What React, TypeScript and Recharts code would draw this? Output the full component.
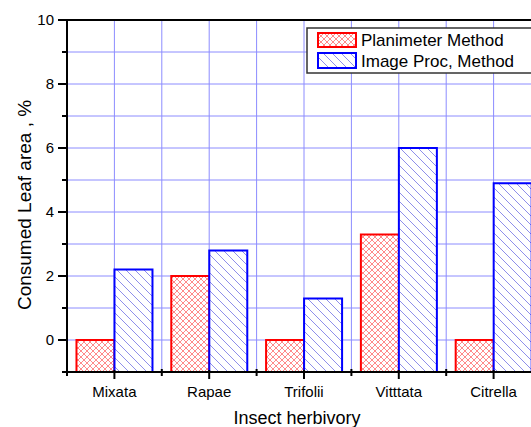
import React from 'react';
import { Bar, BarChart, CartesianGrid, Label, ReferenceLine, XAxis, YAxis } from 'recharts';

const categories = ['Mixata', 'Rapae', 'Trifolii', 'Vitttata', 'Citrella'];
const planimeter = [0, 2.0, 0, 3.3, 0];
const imageProc = [2.2, 2.8, 1.3, 6.0, 4.9];
const yTicks = [-1, 0, 1, 2, 3, 4, 5, 6, 7, 8, 9, 10];
const yLabelled = [0, 2, 4, 6, 8, 10];
const seriesNames = ['Planimeter Method', 'Image Proc, Method'];

const Y_MIN = -1;
const Y_MAX = 10;

const data = categories.map((name, i) => ({
  name,
  plan: [Y_MIN, planimeter[i]],
  img: [Y_MIN, imageProc[i]],
}));

const W = 560;
const H = 427;
const margin = { top: 20, right: 19, bottom: 0, left: 20 };
const Y_AXIS_W = 47;
const X_AXIS_H = 55;
const PLOT_W = W - margin.left - margin.right - Y_AXIS_W;
const BAND = PLOT_W / categories.length;

const font = '"Liberation Sans", Arial, sans-serif';
const red = '#ff0000';
const blue = '#0000ff';
const gridColor = '#8c8cff';

const Patterns = ({ suffix = '' }: { suffix?: string }) => (
  <defs>
    <pattern id={'redX' + suffix} width="6" height="6" patternUnits="userSpaceOnUse">
      <rect width="6" height="6" fill="#fff" />
      <path d="M0,0 L6,6 M6,0 L0,6" stroke="#ff8a8a" strokeWidth="1" />
    </pattern>
    <pattern id={'blueD' + suffix} width="9" height="9" patternUnits="userSpaceOnUse">
      <rect width="9" height="9" fill="#fff" />
      <path d="M0,0 L9,9 M-3,6 L3,12 M6,-3 L12,3" stroke="#8f8fea" strokeWidth="1" />
    </pattern>
  </defs>
);

const YTick = (props: any) => {
  const { x, y, payload } = props;
  const v = payload.value;
  const major = yLabelled.includes(v);
  return (
    <g>
      <line x1={x - (major ? 9 : 5)} x2={x} y1={y} y2={y} stroke="#000" strokeWidth={2} />
      {major && (
        <text x={x - 13} y={y} dy={5} textAnchor="end" fontFamily={font} fontSize={15} fill="#000">
          {v}
        </text>
      )}
    </g>
  );
};

const XTick = (props: any) => {
  const { x, y, payload, index } = props;
  return (
    <g>
      <line x1={x} x2={x} y1={y - 2} y2={y + 7} stroke="#000" strokeWidth={2} />
      <line x1={x - BAND / 2} x2={x - BAND / 2} y1={y - 3} y2={y + 4} stroke="#000" strokeWidth={2} />
      {index === categories.length - 1 && (
        <line x1={x + BAND / 2} x2={x + BAND / 2} y1={y - 3} y2={y + 4} stroke="#000" strokeWidth={2} />
      )}
      <text x={x} y={y + 25} textAnchor="middle" fontFamily={font} fontSize={15} fill="#000">
        {payload.value}
      </text>
    </g>
  );
};

// legend box, drawn over the plot like the original
const LegendBox = () => (
  <svg width={240} height={48} style={{ position: 'absolute', left: 306, top: 27, display: 'block' }}>
    <Patterns suffix="L" />
    <rect x={1} y={1} width={250} height={45} fill="#fff" stroke="#333" strokeWidth={1.5} />
    <rect x={12} y={6} width={38} height={14} fill="url(#redXL)" stroke={red} strokeWidth={2} />
    <text x={55} y={19} fontFamily={font} fontSize={17} fill="#000">
      {seriesNames[0]}
    </text>
    <rect x={12} y={26} width={38} height={15} fill="url(#blueDL)" stroke={blue} strokeWidth={2} />
    <text x={55} y={40} fontFamily={font} fontSize={17} fill="#000">
      {seriesNames[1]}
    </text>
  </svg>
);

const App = () => {
  return (
    <div style={{ position: 'absolute', left: 0, top: 0, width: 531, height: 427, overflow: 'hidden', background: '#fff' }}>
      <BarChart width={W} height={H} data={data} margin={margin} barGap={0} barCategoryGap="10%">
        <Patterns />
        <CartesianGrid
          stroke={gridColor}
          strokeWidth={1}
          verticalCoordinatesGenerator={({ offset }: any) =>
            Array.from({ length: 9 }, (_, k) => offset.left + ((k + 1) * offset.width) / 10)
          }
        />
        <XAxis
          dataKey="name"
          height={X_AXIS_H}
          tickSize={0}
          tickMargin={0}
          tickLine={false}
          axisLine={{ stroke: '#000', strokeWidth: 2 }}
          tick={<XTick />}
          interval={0}
        >
          <Label
            content={({ viewBox }: any) => (
              <text
                x={viewBox.x + viewBox.width / 2 - 7}
                y={viewBox.y + 52}
                textAnchor="middle"
                fontFamily={font}
                fontSize={18}
                fill="#000"
              >
                Insect herbivory
              </text>
            )}
          />
        </XAxis>
        <YAxis
          width={Y_AXIS_W}
          domain={[Y_MIN, Y_MAX]}
          ticks={yTicks}
          interval={0}
          allowDataOverflow
          tickSize={0}
          tickMargin={0}
          tickLine={false}
          axisLine={{ stroke: '#000', strokeWidth: 2 }}
          tick={<YTick />}
        >
          <Label
            content={({ viewBox }: any) => {
              const cx = viewBox.x + 4;
              const cy = 205;
              return (
                <text
                  x={cx}
                  y={cy}
                  transform={`rotate(-90, ${cx}, ${cy})`}
                  textAnchor="middle"
                  dominantBaseline="central"
                  fontFamily={font}
                  fontSize={19}
                  fill="#000"
                >
                  Consumed Leaf area , %
                </text>
              );
            }}
          />
        </YAxis>
        <ReferenceLine y={Y_MAX} stroke="#000" strokeWidth={2} />
        <Bar dataKey="plan" name={seriesNames[0]} fill="url(#redX)" stroke={red} strokeWidth={2} isAnimationActive={false} />
        <Bar dataKey="img" name={seriesNames[1]} fill="url(#blueD)" stroke={blue} strokeWidth={2} isAnimationActive={false} />
      </BarChart>
      <LegendBox />
    </div>
  );
};

export default App;
